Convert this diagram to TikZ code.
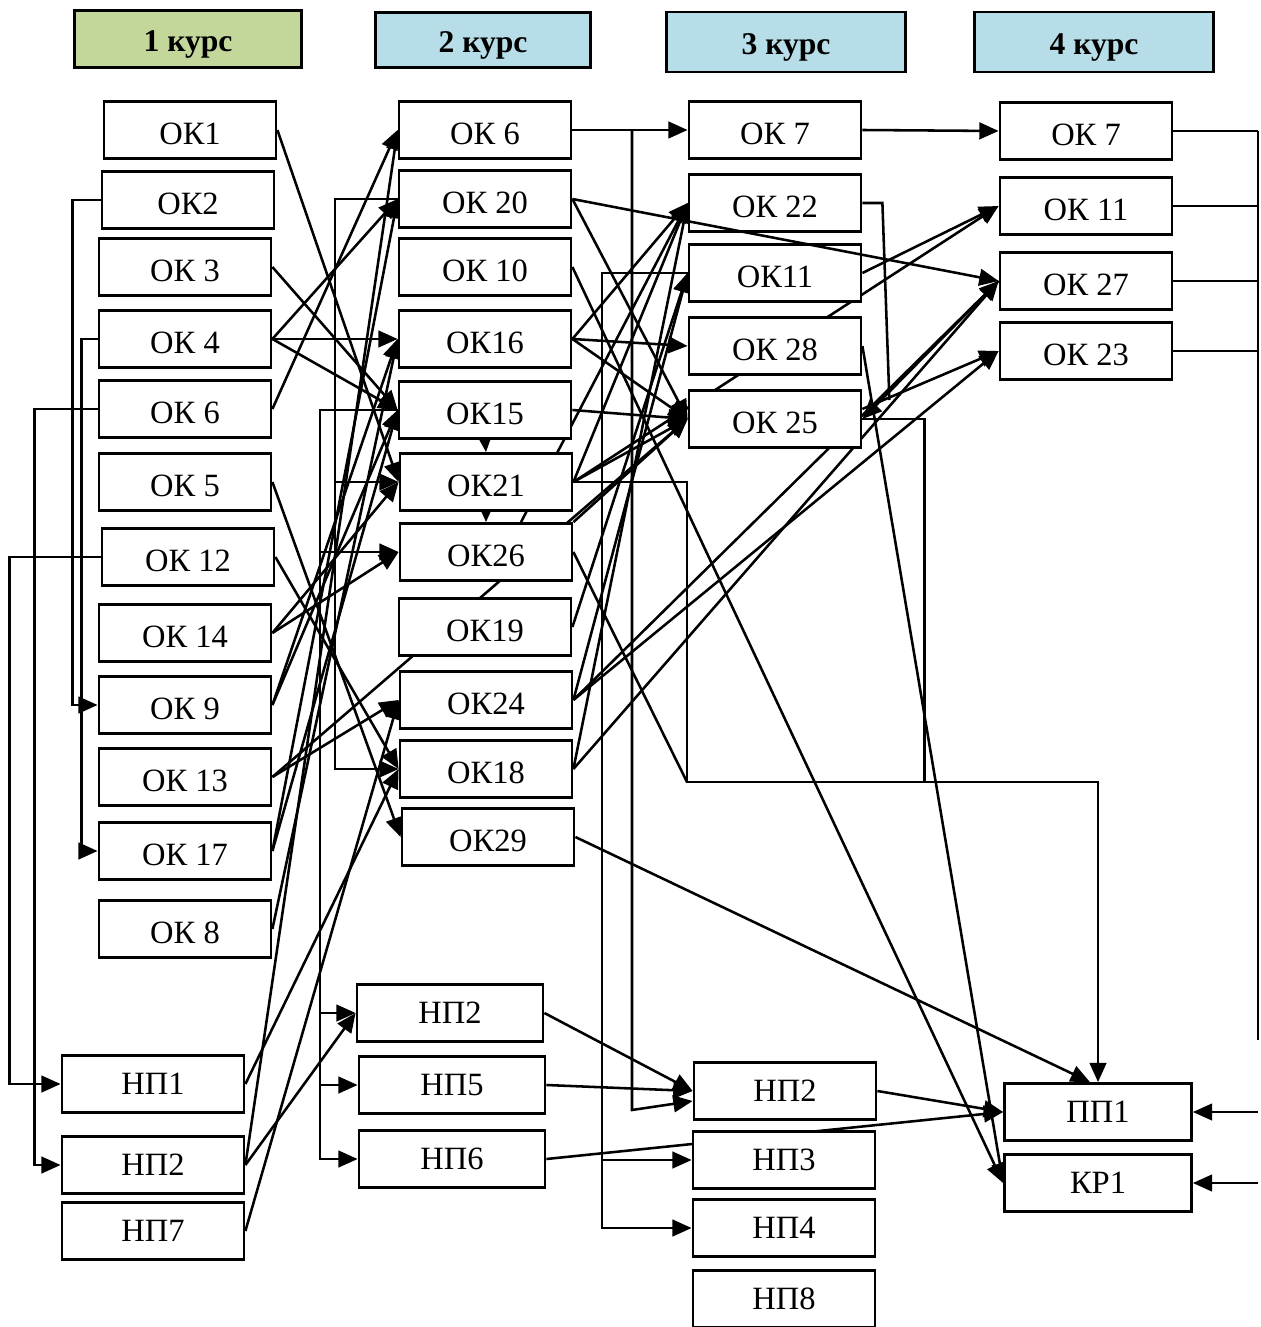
\documentclass[tikz,border=0pt]{standalone}
\usepackage{fontspec}
\setmainfont{Liberation Serif}
\usetikzlibrary{positioning, arrows.meta}
\pgfdeclarelayer{bg}
\pgfsetlayers{bg,main}
\definecolor{kursgreen}{HTML}{C4D79B}
\definecolor{kursblue}{HTML}{B7DDE8}

\begin{document}
\begin{tikzpicture}[
	x=0.02cm,
	y=-0.02cm,
	every box/.style={draw, line width=1.6pt, fill=white, inner sep=0pt, minimum height=1.14cm, font=\fontsize{18.5}{21}\selectfont},
	box ok/.style={minimum width=3.44cm, text height=17pt, text depth=0pt},
	box np/.style={minimum width=3.64cm},
	kurs/.style={draw, line width=1.6pt, inner sep=0pt, text height=14pt, text depth=0pt, font=\fontsize{18}{21}\selectfont\bfseries},
	conn/.style={line width=1.45pt, -{Triangle[length=11pt, width=9.5pt]}},
	wire/.style={line width=1.45pt}
]

\useasboundingbox (0,0) rectangle (1260,1327);

\foreach \n/\x/\y/\w/\h/\c in {1/188/39/4.54/1.14/kursgreen, 2/483/40/4.3/1.1/kursblue, 3/786/42/4.78/1.2/kursblue, 4/1094/42/4.78/1.2/kursblue}
	\node [kurs, fill=\c, minimum width=\w cm, minimum height=\h cm] (kurs-\n) at (\x,\y) {\n\ курс};

\foreach \n/\l/\x/\y in {ok1/ОК1/190/130, ok2/ОК2/188/200, ok3/ОК 3/185/267, ok4/ОК 4/185/339, ok6/ОК 6/185/409, ok5/ОК 5/185/482, ok12/ОК 12/188/557, ok14/ОК 14/185/633, ok9/ОК 9/185/705, ok13/ОК 13/185/777, ok17/ОК 17/185/851, ok8/ОК 8/185/929}
	\node [every box, box ok] (c1-\n) at (\x,\y) {\l};

\foreach \n/\l/\y in {np1/НП1/1084, np2/НП2/1165, np7/НП7/1231}
	\node [every box, box np] (c1-\n) at (153,\y) {\l};

\foreach \n/\l/\x/\y in {ok6/ОК 6/485/130, ok20/ОК 20/485/199, ok10/ОК 10/485/267, ok16/ОК16/485/339, ok15/ОК15/485/410, ok21/ОК21/486/482, ok26/ОК26/486/552, ok19/ОК19/485/627, ok24/ОК24/486/700, ok18/ОК18/486/769, ok29/ОК29/488/837}
	\node [every box, box ok] (c2-\n) at (\x,\y) {\l};

\foreach \n/\l/\x/\y in {np2/НП2/450/1013, np5/НП5/452/1085, np6/НП6/452/1159}
	\node [every box, box np, minimum width=3.72cm] (c2-\n) at (\x,\y) {\l};

\foreach \n/\l/\y in {ok7/ОК 7/130, ok22/ОК 22/203, ok11/ОК11/273, ok28/ОК 28/346, ok25/ОК 25/419}
	\node [every box, box ok] (c3-\n) at (775,\y) {\l};

\foreach \n/\l/\x/\y in {np2/НП2/785/1091, np3/НП3/784/1160, np4/НП4/784/1228, np8/НП8/784/1299}
	\node [every box, box np] (c3-\n) at (\x,\y) {\l};

\foreach \n/\l/\y in {ok7/ОК 7/131, ok11/ОК 11/206, ok27/ОК 27/281, ok23/ОК 23/351}
	\node [every box, box ok] (c4-\n) at (1086,\y) {\l};

\foreach \n/\l/\y in {pp1/ПП1/1112, kr1/КР1/1183}
	\node [every box, box np, minimum width=3.74cm] (c4-\n) at (1098,\y) {\l};

\coordinate (bus-a) at (335,0);
\coordinate (bus-b) at (320,0);
\coordinate (bus-c) at (632,0);
\coordinate (bus-d) at (602,0);
\coordinate (bus-e) at (687,782);
\coordinate (bus-f) at (1258,1040);

\begin{pgfonlayer}{bg}
\draw [conn] (c1-ok2.west) -- ++(-28,0) |- (c1-ok9.west);
\draw [conn] (c1-ok4.west) -- ++(-16,0) |- (c1-ok17.west);
\draw [conn] (c1-ok6.west) -- ++(-63,0) |- (c1-np2.west);
\draw [conn] (c1-ok12.west) -- ++(-91,0) |- (c1-np1.west);

\foreach \a/\b in {ok1/ok21, ok3/ok15, ok4/ok20, ok4/ok16, ok4/ok15, ok6/ok6, ok5/ok29, ok12/ok18, ok14/ok21, ok14/ok26, ok9/ok16, ok9/ok15, ok13/ok24, ok17/ok20, ok17/ok15, ok8/ok16, np1/ok18, np2/ok6, np2/np2, np7/ok24}
	\draw [conn] (c1-\a.east) -- (c2-\b.west);

\draw [conn] (c1-ok13.east) -- (c3-ok25.west);

\draw [conn] (c2-ok20.west) -- (bus-a |- c2-ok20.west) -- (bus-a |- c2-ok18.west) -- (c2-ok18.west);
\draw [conn] (bus-a |- c2-ok21.west) -- (c2-ok21.west);

\draw [conn] (c2-ok15.west) -- (bus-b |- c2-ok15.west) -- (bus-b |- c2-np6.west) -- (c2-np6.west);
\foreach \n in {ok26, np2, np5}
	\draw [conn] (bus-b |- c2-\n.west) -- (c2-\n.west);

\draw [conn] (c2-ok15.south) -- (c2-ok21.north);
\draw [conn] (c2-ok21.south) -- (c2-ok26.north);

\foreach \a/\b in {ok6/ok7, ok20/ok25, ok16/ok22, ok16/ok28, ok16/ok25, ok15/ok25, ok21/ok22, ok21/ok25, ok19/ok11, ok24/ok11, ok18/ok22}
	\draw [conn] (c2-\a.east) -- (c3-\b.west);

\draw [conn] (c2-ok26.north east) -- (c3-ok25.west);
\draw [conn] ([xshift=0.7cm]c2-ok26.north) -- (c3-ok22.west);

\foreach \a/\b in {ok21/ok11, ok24/ok27, ok24/ok23, ok18/ok27}
	\draw [conn] (c2-\a.east) -- (c4-\b.west);

\foreach \a/\b in {ok7/ok7, ok11/ok11}
	\draw [conn] (c3-\a.east) -- (c4-\b.west);

\draw [conn] (c4-ok27.west) -- (c3-ok25.east);
\draw [conn] ([yshift=0.2cm]c3-ok25.east) -- (c4-ok23.west);

\draw [conn] (bus-c |- c2-ok6.east) -- ++(0,980) -- ([yshift=-0.2cm]c3-np2.west);
\draw [conn] (c3-ok11.west) -- (bus-d |- c3-ok11.west) -- (bus-d |- c3-np4.west) -- (c3-np4.west);
\draw [conn] (bus-d |- c3-np3.west) -- (c3-np3.west);

\draw [conn] (c2-ok21.east) -- (bus-e |- c2-ok21.east) -- (bus-e) -| (c4-pp1.north);
\draw [wire] (c2-ok26.east) -- (bus-e);
\draw [wire] (c3-ok25.east) -- ++(62,0) coordinate (bus-g) -- (bus-g |- bus-e);
\draw [wire] (c3-ok22.east) -- ++(20,0) -- ++(7,197);

\draw [conn] (c2-ok29.east) -- ([xshift=-0.16cm]c4-pp1.north);
\draw [conn] (c2-ok10.east) -- (c4-kr1.west);
\draw [conn] (c3-ok28.east) -- (c4-kr1.west);

\foreach \a in {np2, np5}
	\draw [conn] (c2-\a.east) -- (c3-np2.west);
\draw [conn] (c2-np6.east) -- (c4-pp1.west);
\draw [conn] (c3-np2.east) -- (c4-pp1.west);

\foreach \n in {ok7, ok11, ok27, ok23}
	\draw [wire] (c4-\n.east) -- (bus-f |- c4-\n.east);
\draw [wire] (bus-f |- c4-ok7.east) -- (bus-f);
\foreach \n in {pp1, kr1}
	\draw [conn] (bus-f |- c4-\n.east) -- (c4-\n.east);
\end{pgfonlayer}

\draw [conn] (c2-ok20.east) -- (c4-ok27.west);

\end{tikzpicture}
\end{document}
